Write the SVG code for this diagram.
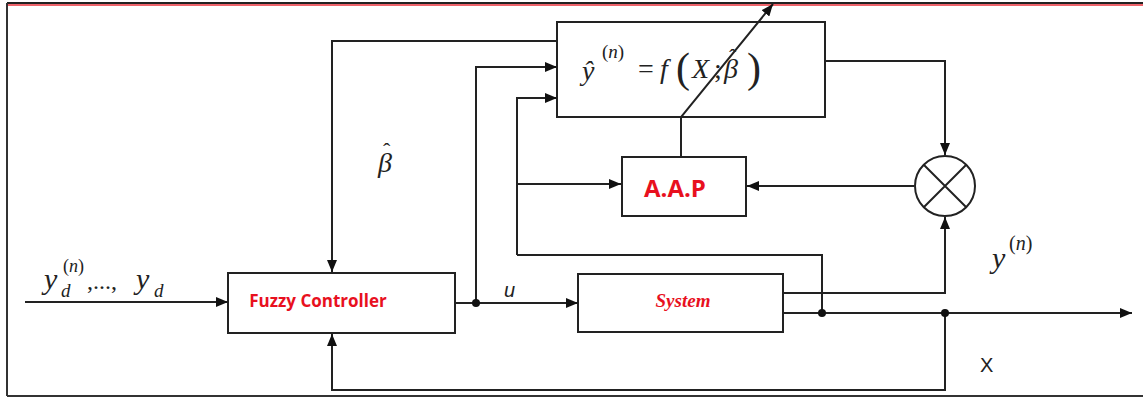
<svg xmlns="http://www.w3.org/2000/svg" width="1143" height="398" viewBox="0 0 1143 398">
<style>
.box{fill:#fff;stroke:#222;stroke-width:2}
.ln{fill:none;stroke:#222;stroke-width:2}
.m{font-family:"Liberation Serif",serif;font-style:italic;fill:#222}
.n{font-family:"Liberation Serif",serif;fill:#222}
.red{fill:#e8101e;font-weight:bold}
</style>
<defs>
<marker id="ah" viewBox="0 0 12 10" refX="12" refY="5" markerWidth="12" markerHeight="10" markerUnits="userSpaceOnUse" orient="auto">
<path d="M0,0 L12,5 L0,10 z" fill="#111"/>
</marker>
</defs>
<rect width="1143" height="398" fill="#fff"/>
<g id="frame">
<line x1="7" y1="3" x2="1143" y2="3" stroke="#222" stroke-width="2"/>
<line x1="8" y1="5" x2="1143" y2="5" stroke="#e8303a" stroke-width="1.5"/>
<line x1="7" y1="3" x2="7" y2="396" stroke="#333" stroke-width="2"/>
<line x1="7" y1="396" x2="1143" y2="396" stroke="#333" stroke-width="2"/>
</g>
<g id="model">
<rect class="box" x="557" y="22" width="268" height="95"/>
<text class="m" x="582" y="80" font-size="28">ŷ<tspan x="602" y="58" font-size="19" font-style="normal">(</tspan><tspan font-size="19">n</tspan><tspan font-size="19" font-style="normal">)</tspan><tspan x="638" y="78" font-style="normal">=</tspan><tspan x="660">f</tspan><tspan x="676" y="82" font-size="42" font-style="normal">(</tspan><tspan x="692" y="78">X</tspan><tspan x="714" font-style="normal">;</tspan><tspan x="724">β</tspan><tspan x="729" y="64" font-size="22" font-style="normal">ˆ</tspan><tspan x="747" y="82" font-size="42" font-style="normal">)</tspan></text>
</g>
<g id="aap">
<rect class="box" x="622" y="157" width="124" height="59"/>
<text x="675" y="197" font-family="'Open Sans','Liberation Sans',sans-serif" font-size="24" text-anchor="middle" class="red">A.A.P</text>
</g>
<g id="multiplier">
<circle cx="945" cy="186" r="30" fill="#fff" stroke="#222" stroke-width="2"/>
<path d="M924,165 L966,207 M966,165 L924,207" stroke="#222" stroke-width="2"/>
</g>
<g id="fuzzy">
<rect class="box" x="228" y="273" width="227" height="60"/>
<text x="318" y="307" font-family="'Open Sans','Liberation Sans',sans-serif" font-size="17" text-anchor="middle" class="red">Fuzzy Controller</text>
</g>
<g id="system">
<rect class="box" x="578" y="274" width="205" height="58"/>
<text x="683" y="307" font-family="'Liberation Serif',serif" font-style="italic" font-size="19" text-anchor="middle" class="red">System</text>
</g>
<g id="connectors">
<path class="ln" d="M557,41 H332 V272" marker-end="url(#ah)"/>
<path class="ln" d="M476,303 V67 H557" marker-end="url(#ah)"/>
<path class="ln" d="M517,255 V98 H557" marker-end="url(#ah)"/>
<path class="ln" d="M517,184 H621" marker-end="url(#ah)"/>
<path class="ln" d="M517,255 H822 V313"/>
<path class="ln" d="M681,157 V117 L773,4" marker-end="url(#ah)"/>
<path class="ln" d="M825,61 H945 V155" marker-end="url(#ah)"/>
<path class="ln" d="M914,186 H747" marker-end="url(#ah)"/>
<path class="ln" d="M783,293 H945 V217" marker-end="url(#ah)"/>
<path class="ln" d="M783,313 H1132" marker-end="url(#ah)"/>
<path class="ln" d="M945,313 V390 H332 V334" marker-end="url(#ah)"/>
<path class="ln" d="M25,302 H228" marker-end="url(#ah)"/>
<path class="ln" d="M455,303 H578" marker-end="url(#ah)"/>
<circle cx="476" cy="303" r="4" fill="#111"/>
<circle cx="822" cy="313" r="4" fill="#111"/>
<circle cx="945" cy="313" r="4" fill="#111"/>
</g>
<g id="labels">
<text class="m" x="44" y="289" font-size="30">y<tspan x="61" y="297" font-size="19">d</tspan><tspan x="63" y="272" font-size="18" font-style="normal">(</tspan><tspan font-size="18">n</tspan><tspan font-size="18" font-style="normal">)</tspan><tspan x="87" y="289" font-size="24" font-style="normal">,...,</tspan><tspan x="136" y="289">y</tspan><tspan x="154" y="297" font-size="19">d</tspan></text>
<text class="m" x="378" y="172" font-size="28">β<tspan x="383" y="158" font-size="22" font-style="normal">ˆ</tspan></text>
<text x="504" y="297" font-family="'Liberation Sans',sans-serif" font-style="italic" font-size="20" fill="#222">u</text>
<text class="m" x="992" y="268" font-size="30">y<tspan x="1009" y="250" font-size="20" font-style="normal">(</tspan><tspan font-size="20">n</tspan><tspan font-size="20" font-style="normal">)</tspan></text>
<text x="980" y="372" font-family="'Liberation Sans',sans-serif" font-size="20" fill="#222">X</text>
</g>
</svg>
